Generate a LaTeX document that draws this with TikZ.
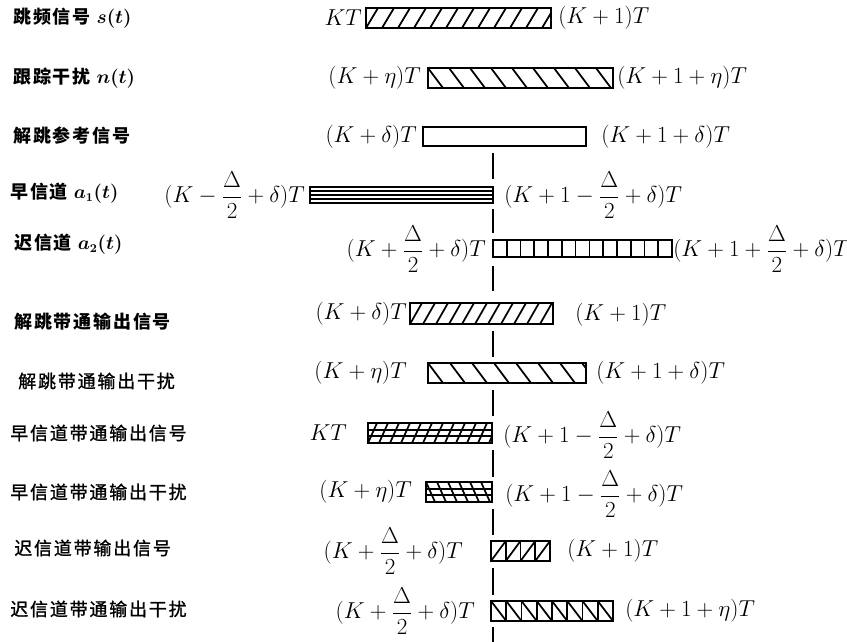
\documentclass[tikz,border=0pt]{standalone}
\usepackage{amsmath}
\usepackage{fontspec}
\usetikzlibrary{fit}
\newfontfamily\cjk{Noto Sans CJK SC}[LetterSpace=10]
\newfontfamily\cjkm{Noto Sans CJK SC}[LetterSpace=10, FakeBold=1.2]
\newcommand\mlab[1]{$\displaystyle #1$}
% patterns: x1 x2 y1(top) y2(bottom) spacing slant
\newcommand\pfwd[6]{%
  \foreach \i [evaluate=\i as \xx using #1-4*#5+\i*#5] in {0,...,40}
    {\draw[hatch] (\xx,#4) -- ({\xx+#6},#3);}}
\newcommand\pbwd[6]{%
  \foreach \i [evaluate=\i as \xx using #1-4*#5+\i*#5] in {0,...,40}
    {\draw[hatch] (\xx,#3) -- ({\xx+#6},#4);}}
% horizontal: x1 x2 y1 y2 n (stripes) nminus1
\newcommand\phor[6]{%
  \foreach \i [evaluate=\i as \yy using #3+\i*(#4-#3)/#5] in {1,...,#6}
    {\draw[hatch] (#1,\yy) -- (#2,\yy);}}
% vertical: x1 x2 y1 y2 spacing
\newcommand\pver[5]{%
  \foreach \i [evaluate=\i as \xx using #1+\i*#5] in {1,...,20}
    {\draw[hatch] (\xx,#3) -- (\xx,#4);}}
\newcommand\mkbar[6]{%
  \begin{scope}\clip (#2,#4) rectangle (#3,#5); #6 \end{scope}
  \node[barbox, fit={(#2,#4) (#3,#5)}] (#1) {};}
\begin{document}
\begin{tikzpicture}[x=0.75pt, y=-0.75pt,
  mathl/.style={font=\fontsize{16.5}{19}\selectfont, inner sep=0pt},
  ml/.style={mathl, anchor=east},
  mr/.style={mathl, anchor=west},
  cjkl/.style={font=\cjkm\fontsize{13.5}{16}\selectfont, anchor=west, inner sep=0pt},
  cjkb/.style={font=\cjk\bfseries\fontsize{13.5}{16}\selectfont, anchor=west, inner sep=0pt},
  barbox/.style={draw, line width=2pt, inner sep=0pt},
  hatch/.style={line width=1.3pt},
  refline/.style={line width=1pt}]
\useasboundingbox (0,0) rectangle (847,642);

% vertical reference line segments
\foreach \a/\b in {153/179, 209/233, 266/291, 331/357, 390/416, 450/477, 509/535, 568/595, 627/642}
  {\draw[refline] (493,\a) -- (493,\b);}

% Row 1
\mkbar{b1}{366}{551}{8}{28}{\pfwd{366}{551}{8}{28}{16}{12}}
\node[cjkb] (t1) at (13,18) {跳频信号 {\boldmath$s(t)$}};
\node[ml] (l1) at (362,18) {\mlab{KT}};
\node[mr] (r1) at (558,18) {\mlab{(K+1)T}};

% Row 2
\mkbar{b2}{428}{613}{68}{88}{\pbwd{428}{613}{68}{88}{21}{15}}
\node[cjkb] (t2) at (13,78) {跟踪干扰 {\boldmath$n(t)$}};
\node[ml] (l2) at (421,78) {\mlab{(K+\eta)T}};
\node[mr] (r2) at (617,78) {\mlab{(K+1+\eta)T}};

% Row 3
\mkbar{b3}{423}{586}{127}{146}{}
\node[cjkb] (t3) at (13,136) {解跳参考信号};
\node[ml] (l3) at (417,137) {\mlab{(K+\delta)T}};
\node[mr] (r3) at (601,137) {\mlab{(K+1+\delta)T}};

% Row 4
\mkbar{b4}{310}{493}{187}{203}{\phor{310}{493}{187}{203}{4}{3}}
\node[cjkb] (t4) at (10,193) {早信道 {\boldmath$a_1(t)$}};
\node[ml] (l4) at (305,195) {\mlab{(K-\frac{\Delta}{2}+\delta)T}};
\node[mr] (r4) at (504,195) {\mlab{(K+1-\frac{\Delta}{2}+\delta)T}};

% Row 5
\mkbar{b5}{493}{672}{240}{257}{\pver{493}{672}{240}{257}{13.77}}
\node[cjkb] (t5) at (14,244) {迟信道 {\boldmath$a_2(t)$}};
\node[ml] (l5) at (486,249) {\mlab{(K+\frac{\Delta}{2}+\delta)T}};
\node[mr] (r5) at (673,249) {\mlab{(K+1+\frac{\Delta}{2}+\delta)T}};

% Row 6
\mkbar{b6}{410}{553}{303}{324}{\pfwd{410}{553}{303}{324}{13}{12}}
\node[cjkb] (t6) at (14,322) {解跳带通输出信号};
\node[ml] (l6) at (407,314) {\mlab{(K+\delta)T}};
\node[mr] (r6) at (575,315) {\mlab{(K+1)T}};

% Row 7
\mkbar{b7}{428}{586}{363}{383}{\pbwd{428}{586}{363}{383}{22}{15}}
\node[cjkl] (t7) at (18,381) {解跳带通输出干扰};
\node[ml] (l7) at (407,373) {\mlab{(K+\eta)T}};
\node[mr] (r7) at (596,373) {\mlab{(K+1+\delta)T}};

% Row 8
\mkbar{b8}{368}{492}{423}{443}{\phor{368}{492}{423}{443}{3}{2}\pfwd{368}{492}{423}{443}{11}{9}}
\node[cjkl] (t8) at (10,433) {早信道带通输出信号};
\node[ml] (l8) at (347,433) {\mlab{KT}};
\node[mr] (r8) at (503,435) {\mlab{(K+1-\frac{\Delta}{2}+\delta)T}};

% Row 9
\mkbar{b9}{426}{492}{482}{502}{\phor{426}{492}{482}{502}{3}{2}\pbwd{426}{492}{482}{502}{11}{9}}
\node[cjkl] (t9) at (10,492) {早信道带通输出干扰};
\node[ml] (l9) at (412,492) {\mlab{(K+\eta)T}};
\node[mr] (r9) at (505,494) {\mlab{(K+1-\frac{\Delta}{2}+\delta)T}};

% Row 10
\mkbar{b10}{491}{550}{541}{561}{\pver{491}{550}{541}{561}{14.75}\pfwd{491}{550}{541}{561}{14.75}{14.75}}
\node[cjkl] (t10) at (14,548) {迟信道带输出信号};
\node[ml] (l10) at (463,551) {\mlab{(K+\frac{\Delta}{2}+\delta)T}};
\node[mr] (r10) at (567,551) {\mlab{(K+1)T}};

% Row 11
\mkbar{b11}{491}{613}{601}{621}{\pver{491}{613}{601}{621}{15.25}\pbwd{491}{613}{601}{621}{15.25}{15.25}}
\node[cjkl] (t11) at (10,609) {迟信道带通输出干扰};
\node[ml] (l11) at (475,611) {\mlab{(K+\frac{\Delta}{2}+\delta)T}};
\node[mr] (r11) at (625,611) {\mlab{(K+1+\eta)T}};
\end{tikzpicture}
\end{document}
